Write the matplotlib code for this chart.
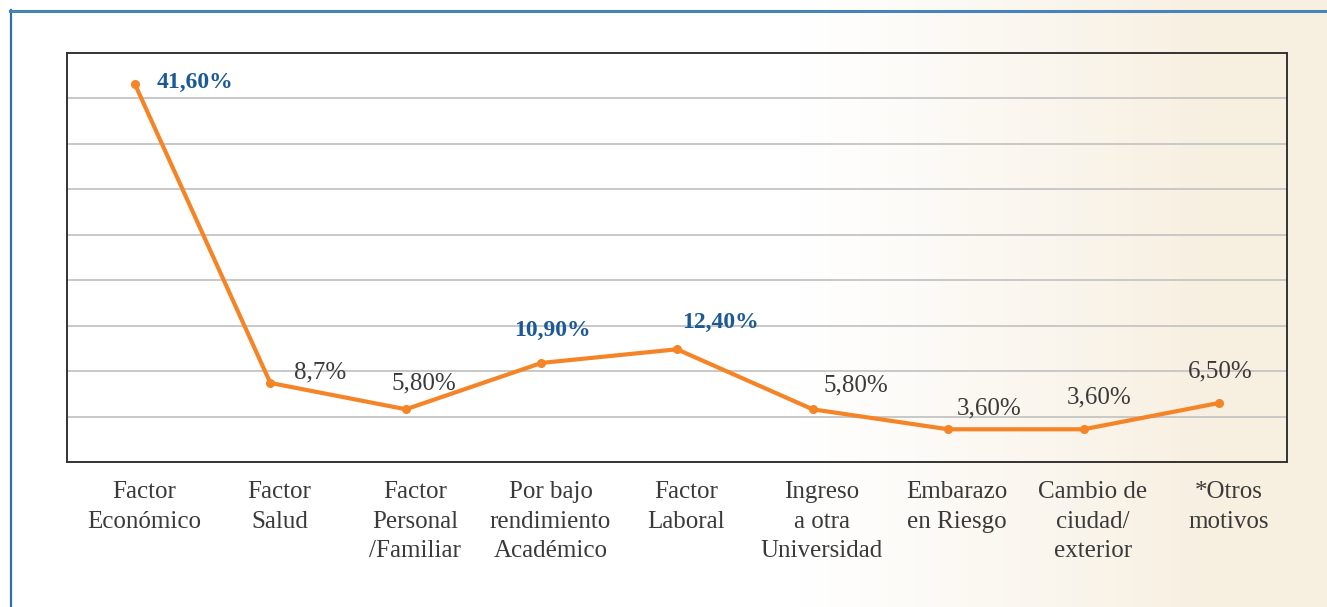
import numpy as np
import matplotlib
matplotlib.use("Agg")
import matplotlib.pyplot as plt
import matplotlib.transforms as mtransforms
from matplotlib.colors import LinearSegmentedColormap
from matplotlib.lines import Line2D

categories = ["Factor\nEconómico", "Factor\nSalud", "Factor\nPersonal\n/Familiar",
              "Por bajo\nrendimiento\nAcadémico", "Factor\nLaboral", "Ingreso\na otra\nUniversidad",
              "Embarazo\nen Riesgo", "Cambio de\nciudad/\nexterior", "*Otros\nmotivos"]
values = [41.6, 8.7, 5.8, 10.9, 12.4, 5.8, 3.6, 3.6, 6.5]
value_labels = ["41,60%", "8,7%", "5,80%", "10,90%", "12,40%", "5,80%", "3,60%", "3,60%", "6,50%"]
highlight = [True, False, False, True, True, False, False, False, False]

# label offsets in pixels (layout)
label_offsets = [(60, 1), (50, 10), (18, 26), (11, 32), (44, 27), (43, 24), (41, 21), (15, 32), (1, 31)]

plt.rcParams['font.family'] = ['Liberation Serif', 'DejaVu Serif']

W, H = 1327, 607
fig = plt.figure(figsize=(W / 100, H / 100), dpi=100)

# background gradient
bg = fig.add_axes([0, 0, 1, 1], zorder=-10)
bg.set_axis_off()
xs = np.linspace(0, 1, 400)
grad = np.clip((xs - 0.6) / 0.32, 0, 1) ** 1.1
cmap = LinearSegmentedColormap.from_list("bgc", ["#ffffff", "#f7efe0"])
bg.imshow(np.tile(grad, (10, 1)), cmap=cmap, aspect="auto", extent=[0, 1, 0, 1], vmin=0, vmax=1)
bg.set_xlim(0, 1)
bg.set_ylim(0, 1)

# blue frame lines (left & top)
fig.add_artist(Line2D([10.5 / W, 10.5 / W], [0, 1 - 10 / H], transform=fig.transFigure, color="#2e6fb0", lw=1.6))
fig.add_artist(Line2D([10 / W, 1], [1 - 10.5 / H, 1 - 10.5 / H], transform=fig.transFigure, color="#4683b8", lw=2.2))

ax = fig.add_axes([67 / W, 1 - 462 / H, (1287 - 67) / W, (462 - 53) / H])
ax.set_facecolor("none")
x = np.arange(len(categories))
ax.plot(x, values, color="#f58426", lw=3.0, marker="o", markersize=5.5, solid_joinstyle="round", zorder=3)
ax.set_xlim(-0.5, len(categories) - 0.5)
ax.set_ylim(0, 45)
ax.set_yticks(np.arange(5, 45, 5))
ax.yaxis.grid(True, color="#c8c8c8", lw=1.4)
ax.set_yticklabels([])
ax.tick_params(axis="y", length=0)
ax.set_xticks(x)
ax.set_xticklabels(categories, fontsize=18, color="#3a3a3a", linespacing=1.43)
ax.tick_params(axis="x", length=0, pad=14)
shift = mtransforms.ScaledTranslation(9 / 100, 0, fig.dpi_scale_trans)
for lbl in ax.get_xticklabels():
    lbl.set_transform(lbl.get_transform() + shift)
for s in ax.spines.values():
    s.set_color("#333333")
    s.set_linewidth(1.4)

for xi, v, lab, hl, (dx, dy) in zip(x, values, value_labels, highlight, label_offsets):
    ax.annotate(lab, (xi, v), xytext=(dx, dy), textcoords="offset pixels",
                ha="center", va="center", fontsize=17 if hl else 18,
                color="#1b5a96" if hl else "#3a3a3a",
                fontweight="bold" if hl else "normal", zorder=4)

fig.savefig("out.png", dpi=100)
